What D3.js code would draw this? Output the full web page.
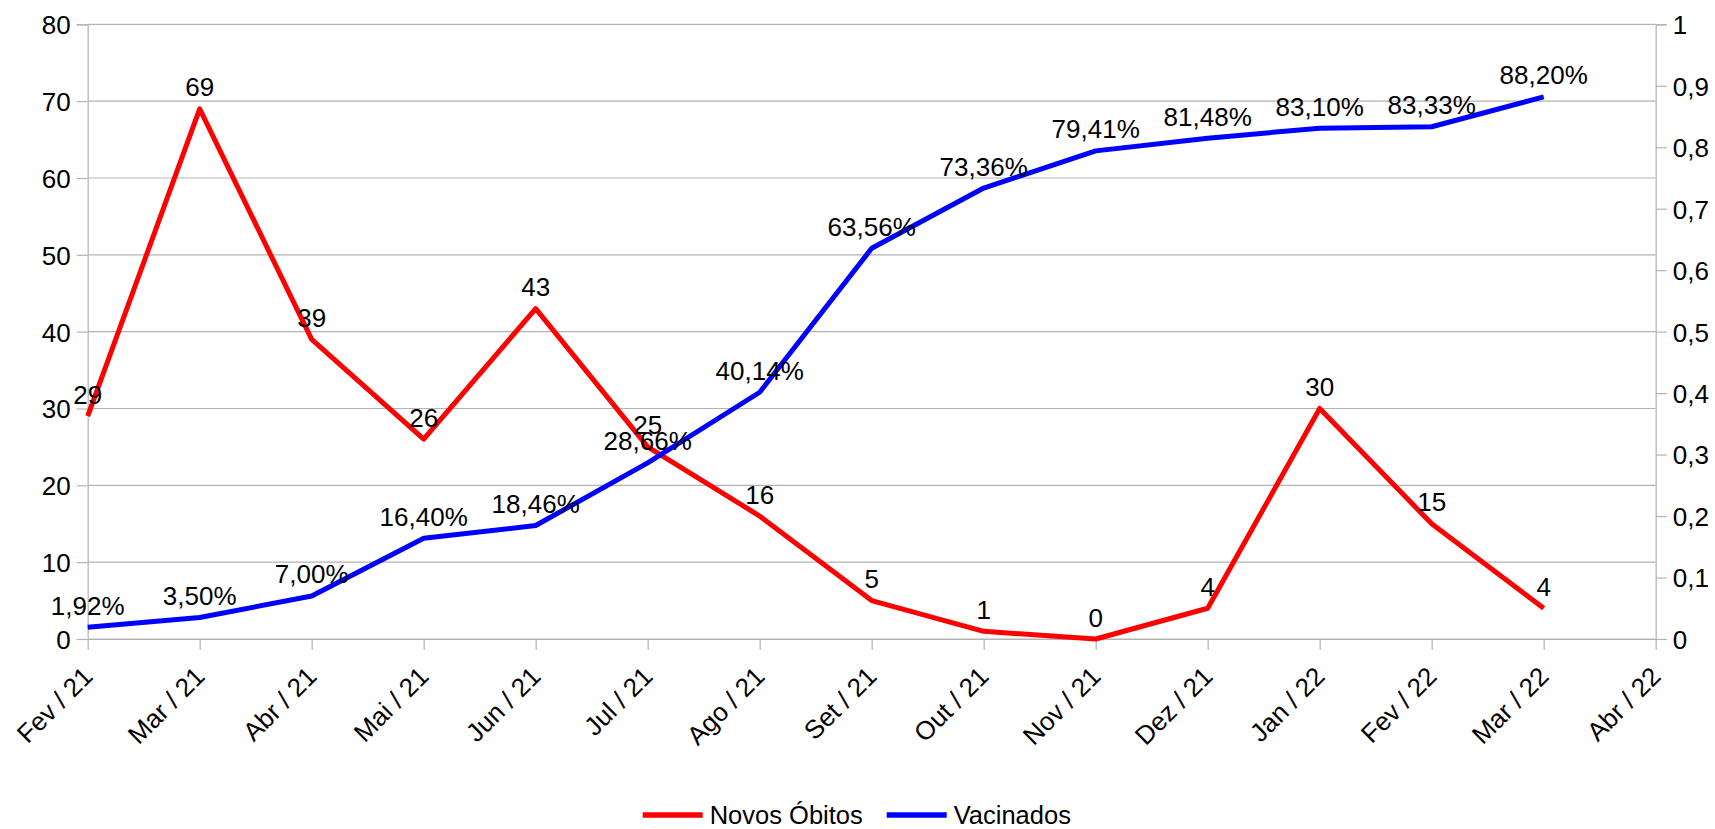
<!DOCTYPE html>
<html>
<head>
<meta charset="utf-8">
<script src="https://cdn.jsdelivr.net/npm/d3@7"></script>
<style>
  html, body { margin: 0; padding: 0; background: #fff; }
  text { font-family: "Liberation Sans", Arial, sans-serif; fill: #000; }
</style>
</head>
<body>
<svg id="chart" width="1715" height="829"></svg>
<script>
const categories = ["Fev / 21","Mar / 21","Abr / 21","Mai / 21","Jun / 21","Jul / 21","Ago / 21","Set / 21","Out / 21","Nov / 21","Dez / 21","Jan / 22","Fev / 22","Mar / 22","Abr / 22"];
const novosObitos = [29, 69, 39, 26, 43, 25, 16, 5, 1, 0, 4, 30, 15, 4];
const vacinados = [0.0192, 0.0350, 0.0700, 0.1640, 0.1846, 0.2866, 0.4014, 0.6356, 0.7336, 0.7941, 0.8148, 0.8310, 0.8333, 0.8820];
const leftTicks = [0, 10, 20, 30, 40, 50, 60, 70, 80];
const rightTicks = [0, 0.1, 0.2, 0.3, 0.4, 0.5, 0.6, 0.7, 0.8, 0.9, 1];
const seriesNames = ["Novos Óbitos", "Vacinados"];

const locale = d3.formatLocale({decimal: ",", thousands: ".", grouping: [3], currency: ["R$", ""]});
const fmtRight = locale.format(".1~f");
const fmtPct = locale.format(".2%");

const plotL = 87.7, plotR = 1655.7, plotT = 24.3, plotB = 639;
const FS = 26;
const gridColor = "#b3b3b3";

const svg = d3.select("#chart");

const x = d3.scalePoint().domain(categories).range([plotL, plotR]).padding(0);
const y = d3.scaleLinear().domain([0, 80]).range([plotB, plotT]);
const y2 = d3.scaleLinear().domain([0, 1]).range([plotB, plotT]);

// gridlines
svg.append("g").selectAll("line").data(leftTicks).join("line")
  .attr("x1", plotL).attr("x2", plotR)
  .attr("y1", d => y(d)).attr("y2", d => y(d))
  .attr("stroke", gridColor).attr("stroke-width", 1.2);

// left axis
const gL = svg.append("g").attr("transform", `translate(${plotL},0)`)
  .call(d3.axisLeft(y).tickValues(leftTicks).tickSize(11).tickPadding(6).tickFormat(d3.format("d")));
// right axis
const gR = svg.append("g").attr("transform", `translate(${plotR},0)`)
  .call(d3.axisRight(y2).tickValues(rightTicks).tickSize(11).tickPadding(6).tickFormat(fmtRight));
// bottom axis
const gB = svg.append("g").attr("transform", `translate(0,${plotB})`)
  .call(d3.axisBottom(x).tickSize(11).tickSizeOuter(0));

[gL, gR, gB].forEach(g => {
  g.selectAll(".domain").attr("stroke", gridColor).attr("stroke-width", 1.2);
  g.selectAll(".tick line").attr("stroke", gridColor).attr("stroke-width", 1.2);
  g.selectAll("text").style("font-size", FS + "px").attr("fill", "#000")
    .style("font-family", '"Liberation Sans", Arial, sans-serif');
});
gL.selectAll(".tick text").attr("dy", "0.36em");
gR.selectAll(".tick text").attr("dy", "0.36em");
gB.selectAll(".tick text")
  .attr("x", 0).attr("y", 0).attr("dy", 0)
  .attr("text-anchor", "end")
  .attr("transform", "translate(6,39) rotate(-45)");

// lines
const lineRed = d3.line().x((d, i) => x(categories[i])).y(d => y(d));
const lineBlue = d3.line().x((d, i) => x(categories[i])).y(d => y2(d));

svg.append("path").datum(novosObitos)
  .attr("d", lineRed).attr("fill", "none").attr("stroke", "#ff0000")
  .attr("stroke-width", 5).attr("stroke-linejoin", "round");
svg.append("path").datum(vacinados)
  .attr("d", lineBlue).attr("fill", "none").attr("stroke", "#0000ff")
  .attr("stroke-width", 5).attr("stroke-linejoin", "round");

// data labels
svg.append("g").selectAll("text").data(novosObitos).join("text")
  .attr("x", (d, i) => x(categories[i]))
  .attr("y", d => y(d) - 12.5)
  .attr("text-anchor", "middle")
  .style("font-size", FS + "px")
  .text(d => d);
svg.append("g").selectAll("text").data(vacinados).join("text")
  .attr("x", (d, i) => x(categories[i]))
  .attr("y", d => y2(d) - 12.5)
  .attr("text-anchor", "middle")
  .style("font-size", FS + "px")
  .text(d => fmtPct(d));

// legend
const legend = svg.append("g");
const legendItems = [
  {name: seriesNames[0], color: "#ff0000", x0: 642.7},
  {name: seriesNames[1], color: "#0000ff", x0: 886.7}
];
legendItems.forEach(it => {
  legend.append("line").attr("x1", it.x0).attr("x2", it.x0 + 60)
    .attr("y1", 815).attr("y2", 815)
    .attr("stroke", it.color).attr("stroke-width", 5.5);
  legend.append("text").attr("x", it.x0 + 67).attr("y", 824)
    .style("font-size", "25.5px").text(it.name);
});
</script>
</body>
</html>
